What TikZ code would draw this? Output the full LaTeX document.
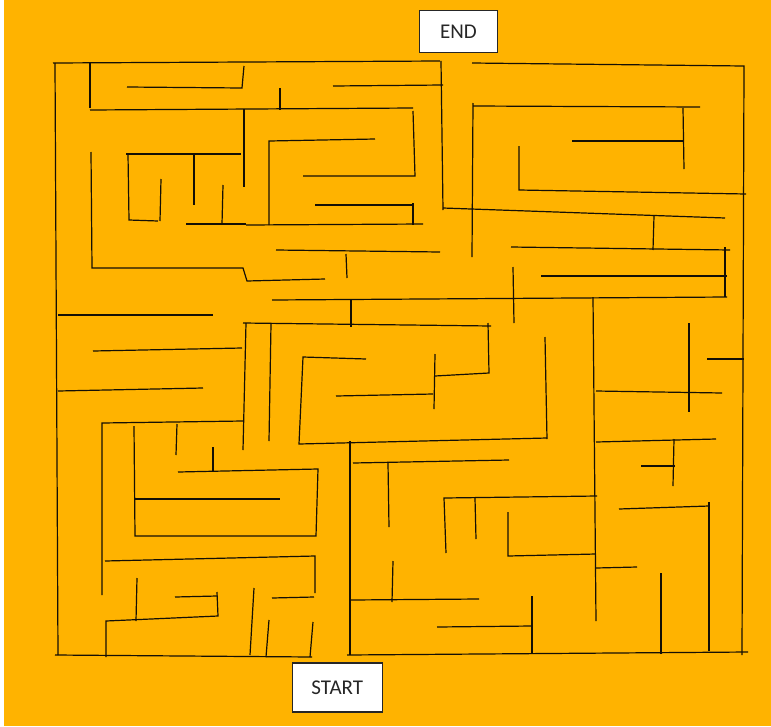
\documentclass[tikz,border=0pt]{standalone}
\usepackage{fontspec}
\setmainfont{Carlito}
\definecolor{mazebg}{RGB}{255,179,0}
\definecolor{walls}{RGB}{20,15,5}
\begin{document}
\begin{tikzpicture}[x=1pt,y=-1pt,
  wall/.style={draw=walls,line width=1.2pt},
  label box/.style={draw=black!85,line width=1.4pt,fill=white,inner sep=0pt,font=\fontsize{21}{24}\selectfont,text=black!85}]
\useasboundingbox (0,0) rectangle (771,726);
\fill[white] (0,0) rectangle (771,726);
\fill[mazebg] (4,0) rectangle (771,726);
% outer walls
\draw[wall] (53,63) -- (440,61);
\draw[wall] (472,63) -- (744,66) -- (742,655);
\draw[wall] (55,63) -- (58,655);
\draw[wall] (55,655) -- (312,657);
\draw[wall] (347,655) -- (748,652);
% top-left region
\draw[wall] (90,63) -- (90,108);
\draw[wall] (90,110) -- (413,108);
\draw[wall] (127,87) -- (242,88) -- (244,66);
\draw[wall] (244,109) -- (244,187);
\draw[wall] (91,152) -- (92,268) -- (243,268) -- (247,281) -- (325,279);
\draw[wall] (126,154) -- (241,154);
\draw[wall] (128,154) -- (129,220) -- (158,221);
\draw[wall] (160,221) -- (161,179);
\draw[wall] (194,155) -- (194,205);
\draw[wall] (186,224) -- (246,224);
\draw[wall] (222,224) -- (223,185);
\draw[wall] (246,225) -- (423,224);
\draw[wall] (269,225) -- (269,141) -- (375,139);
\draw[wall] (333,86) -- (443,85);
\draw[wall] (441,61) -- (443,210);
\draw[wall] (280,88) -- (280,110);
\draw[wall] (413,111) -- (415,176) -- (303,176);
\draw[wall] (315,205) -- (414,205);
\draw[wall] (413,203) -- (413,225);
\draw[wall] (276,250) -- (440,252);
\draw[wall] (346,254) -- (347,278);
% top-right region
\draw[wall] (443,208) -- (725,218);
\draw[wall] (473,103) -- (472,257);
\draw[wall] (473,106) -- (700,107);
\draw[wall] (683,108) -- (684,169);
\draw[wall] (572,141) -- (684,141);
\draw[wall] (519,146) -- (519,190) -- (746,194);
\draw[wall] (654,216) -- (653,250);
\draw[wall] (511,247) -- (730,250);
\draw[wall] (725,247) -- (725,297);
\draw[wall] (541,276) -- (727,276);
\draw[wall] (272,300) -- (727,297);
\draw[wall] (513,267) -- (514,323);
\draw[wall] (351,300) -- (351,327);
% middle region
\draw[wall] (58,315) -- (213,315);
\draw[wall] (93,351) -- (242,348);
\draw[wall] (58,391) -- (203,388);
\draw[wall] (243,323) -- (491,326);
\draw[wall] (488,323) -- (489,373) -- (435,376);
\draw[wall] (246,323) -- (243,450);
\draw[wall] (271,324) -- (269,441);
\draw[wall] (366,359) -- (303,357) -- (299,444) -- (547,438);
\draw[wall] (545,337) -- (547,439);
\draw[wall] (435,354) -- (434,409);
\draw[wall] (336,396) -- (433,394);
\draw[wall] (593,297) -- (596,621);
\draw[wall] (689,323) -- (689,412);
\draw[wall] (707,359) -- (744,359);
\draw[wall] (596,391) -- (722,393);
% bottom-left region
\draw[wall] (102,595) -- (102,423) -- (243,421);
\draw[wall] (177,424) -- (176,455);
\draw[wall] (134,426) -- (135,536) -- (316,536) -- (318,469) -- (178,472);
\draw[wall] (213,447) -- (213,472);
\draw[wall] (135,499) -- (280,499);
\draw[wall] (105,561) -- (315,556) -- (315,593);
\draw[wall] (272,598) -- (314,597);
\draw[wall] (137,578) -- (136,621);
\draw[wall] (106,657) -- (106,621) -- (218,616) -- (217,592);
\draw[wall] (175,597) -- (217,596);
\draw[wall] (254,588) -- (250,655);
\draw[wall] (269,620) -- (266,657);
\draw[wall] (313,622) -- (310,657);
% bottom-right region
\draw[wall] (350,441) -- (350,655);
\draw[wall] (353,463) -- (509,460);
\draw[wall] (388,463) -- (389,527);
\draw[wall] (446,553) -- (444,498) -- (597,496);
\draw[wall] (475,498) -- (476,539);
\draw[wall] (393,561) -- (392,602);
\draw[wall] (351,600) -- (479,599);
\draw[wall] (437,627) -- (532,626);
\draw[wall] (532,596) -- (532,654);
\draw[wall] (508,512) -- (508,556) -- (596,554);
\draw[wall] (596,568) -- (637,567);
\draw[wall] (596,442) -- (716,439);
\draw[wall] (674,439) -- (673,486);
\draw[wall] (641,466) -- (675,466);
\draw[wall] (619,509) -- (709,506);
\draw[wall] (709,502) -- (709,651);
\draw[wall] (661,573) -- (661,654);
% labels
\node[label box,minimum width=78pt,minimum height=42pt] (endbox) at (458.5,31.5) {END};
\node[label box,minimum width=90pt,minimum height=49pt] (startbox) at (337.3,687.5) {START};
\end{tikzpicture}
\end{document}
